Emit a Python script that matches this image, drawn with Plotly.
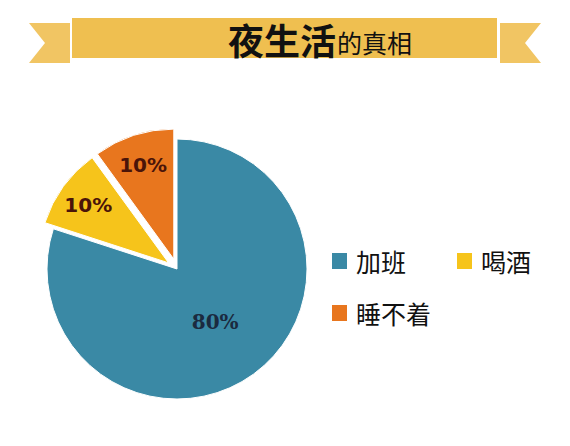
import plotly.graph_objects as go

# 数据
labels = ["加班", "喝酒", "睡不着"]
values = [80, 10, 10]
pulls = [0, 0.08, 0.08]
colors = ["#3A89A5", "#F6C41B", "#E8761E"]
text_colors = ["#1B2A3F", "#4A1409", "#4A1409"]
text_fonts = ["DejaVu Serif", "DejaVu Sans", "DejaVu Sans"]

title_big = "夜生活"
title_small = "的真相"

W, H = 570, 446
OFF = 8  # page body margin of the browser


def px(x):
    return (x - OFF) / W


def py(y):
    return 1 - (y - OFF) / H


# pie position (pixels in the screenshot): center and radius incl. pull
cx, cy, r = 177, 269, 130
half = r * (1 + max(pulls))

fig = go.Figure()
fig.add_trace(go.Pie(
    labels=labels,
    values=values,
    pull=pulls,
    sort=False,
    direction="clockwise",
    rotation=0,
    marker=dict(colors=colors, line=dict(color="white", width=1)),
    textinfo="percent",
    texttemplate="<b>%{percent:.0%}</b>",
    textposition="inside",
    insidetextorientation="horizontal",
    textfont=dict(size=20, color=text_colors, family=text_fonts),
    domain=dict(x=[px(cx - half), px(cx + half)],
                y=[py(cy + half), py(cy - half)]),
    showlegend=False,
    hoverinfo="label+percent",
))

# 标题横幅
banner = "#EFBF50"
tail = "#F1C563"
shapes = [
    dict(type="path", xref="paper", yref="paper", layer="below",
         path=f"M {px(29)} {py(23)} L {px(70)} {py(23)} L {px(70)} {py(63)} "
              f"L {px(29)} {py(63)} L {px(45)} {py(43)} Z",
         fillcolor=tail, line=dict(width=0)),
    dict(type="path", xref="paper", yref="paper", layer="below",
         path=f"M {px(500)} {py(23)} L {px(541)} {py(23)} L {px(525)} {py(43)} "
              f"L {px(541)} {py(63)} L {px(500)} {py(63)} Z",
         fillcolor=tail, line=dict(width=0)),
    dict(type="rect", xref="paper", yref="paper", layer="below",
         x0=px(72), x1=px(497), y0=py(58), y1=py(18),
         fillcolor=banner, line=dict(width=0)),
]

annotations = [
    dict(text=f"<b>{title_big}</b>", x=px(226), y=py(39), xref="paper", yref="paper",
         xanchor="left", yanchor="middle", showarrow=False,
         font=dict(family="Noto Sans CJK SC", size=36, color="#111111", weight=900)),
    dict(text=title_small, x=px(335), y=py(42), xref="paper", yref="paper",
         xanchor="left", yanchor="middle", showarrow=False,
         font=dict(family="Noto Sans CJK SC", size=25, color="#111111")),
]

# 图例（手动排成两列）
leg_pos = [(332, 261), (457, 261), (332, 313)]
for lab, col, (lx, ly) in zip(labels, colors, leg_pos):
    shapes.append(dict(type="rect", xref="paper", yref="paper",
                       x0=px(lx), x1=px(lx + 15), y0=py(ly + 8), y1=py(ly - 8),
                       fillcolor=col, line=dict(width=0)))
    annotations.append(dict(text=lab, x=px(lx + 22), y=py(ly), xref="paper", yref="paper",
                            xanchor="left", yanchor="middle", showarrow=False,
                            font=dict(family="Noto Sans CJK SC", size=25, color="#111111")))

fig.update_layout(
    width=W, height=H,
    margin=dict(l=0, r=0, t=0, b=0),
    paper_bgcolor="white",
    plot_bgcolor="white",
    shapes=shapes,
    annotations=annotations,
)

fig.write_html("out.html")
